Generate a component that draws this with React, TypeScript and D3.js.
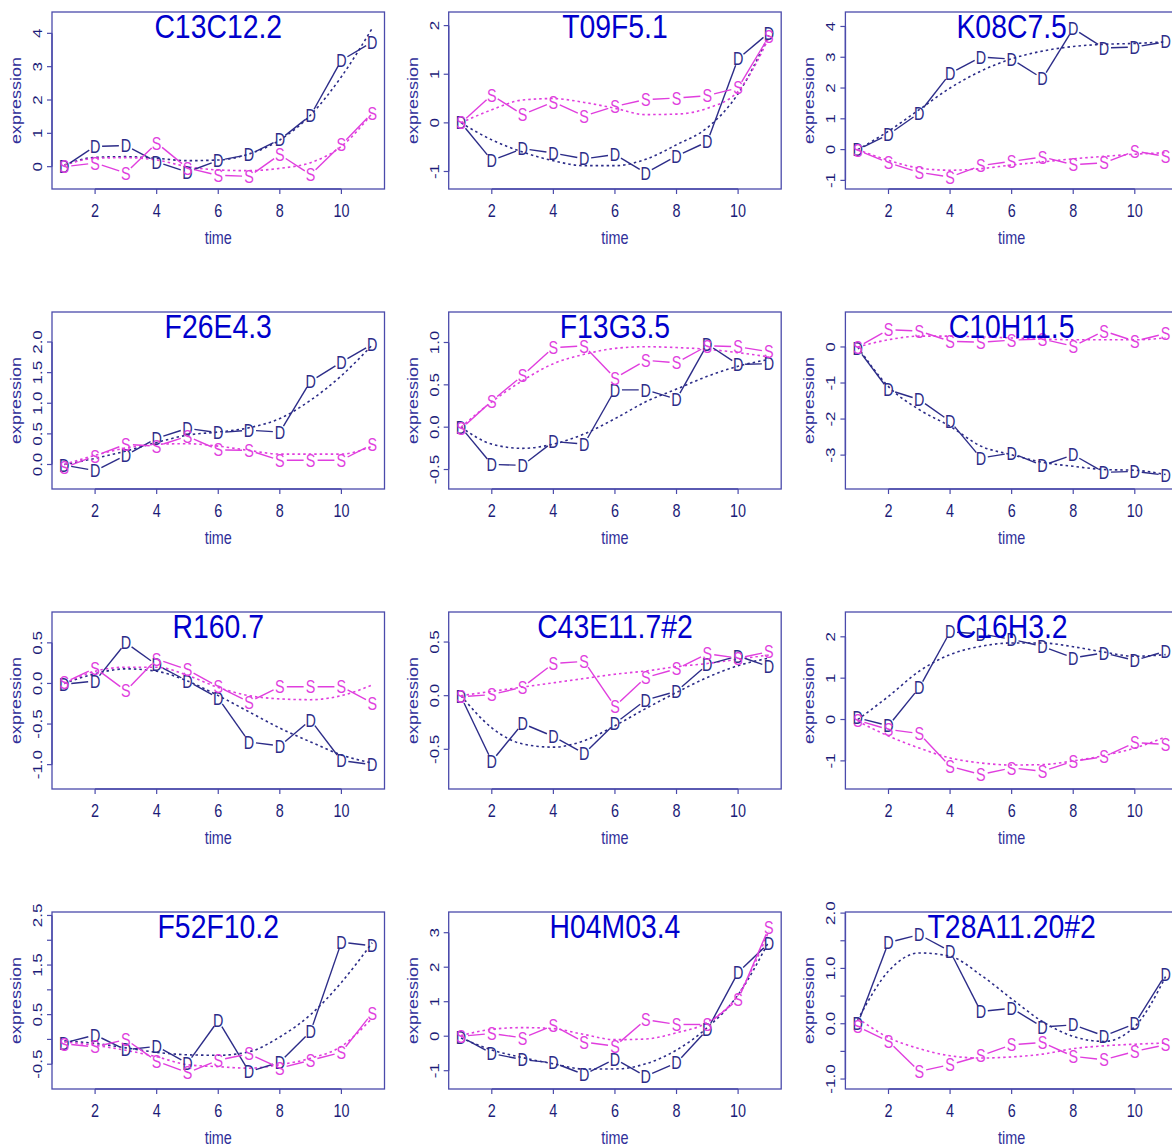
import React from "react";
import * as d3 from "d3";

// gene names, one panel each (4 rows x 3 cols)
const genes = [
  "C13C12.2", "T09F5.1", "K08C7.5",
  "F26E4.3", "F13G3.5", "C10H11.5",
  "R160.7", "C43E11.7#2", "C16H3.2",
  "F52F10.2", "H04M03.4", "T28A11.20#2",
];

const times = [1, 2, 3, 4, 5, 6, 7, 8, 9, 10, 11];
const xTicks = [2, 4, 6, 8, 10];

// observed series "D"
const dValues = [
  [0.0, 0.61, 0.63, 0.14, -0.16, 0.19, 0.36, 0.81, 1.54, 3.19, 3.74],
  [0, -0.77, -0.53, -0.62, -0.74, -0.65, -1.03, -0.68, -0.39, 1.32, 1.85],
  [0, 0.49, 1.19, 2.47, 3.01, 2.94, 2.31, 3.93, 3.3, 3.33, 3.5],
  [-0.01, -0.1, 0.15, 0.43, 0.59, 0.52, 0.56, 0.53, 1.36, 1.67, 1.96],
  [0, -0.44, -0.45, -0.17, -0.2, 0.44, 0.44, 0.33, 0.98, 0.74, 0.75],
  [-0.05, -1.19, -1.46, -2.06, -3.08, -2.94, -3.29, -2.99, -3.48, -3.45, -3.56],
  [-0.01, 0.03, 0.5, 0.23, 0.03, -0.18, -0.72, -0.77, -0.45, -0.95, -1.0],
  [-0.01, -0.61, -0.26, -0.38, -0.54, -0.26, -0.04, 0.04, 0.29, 0.37, 0.27],
  [0.04, -0.15, 0.77, 2.12, 2.07, 1.94, 1.77, 1.49, 1.61, 1.43, 1.65],
  [-0.07, 0.09, -0.21, -0.14, -0.48, 0.38, -0.65, -0.46, 0.16, 1.96, 1.89],
  [-0.02, -0.5, -0.68, -0.77, -1.11, -0.66, -1.16, -0.77, 0.19, 1.85, 2.7],
  [0, 1.47, 1.61, 1.31, 0.22, 0.28, -0.06, -0.02, -0.22, 0, 0.89],
];

// observed series "S"
const sValues = [
  [0.0, 0.11, -0.19, 0.71, -0.04, -0.26, -0.29, 0.36, -0.24, 0.66, 1.61],
  [0, 0.57, 0.17, 0.43, 0.14, 0.34, 0.48, 0.51, 0.56, 0.72, 1.78],
  [-0.02, -0.43, -0.74, -0.89, -0.52, -0.38, -0.24, -0.49, -0.43, -0.05, -0.22],
  [-0.05, 0.14, 0.33, 0.3, 0.46, 0.24, 0.23, 0.07, 0.07, 0.07, 0.33],
  [-0.02, 0.31, 0.61, 0.94, 0.96, 0.58, 0.79, 0.76, 0.96, 0.95, 0.89],
  [0, 0.48, 0.44, 0.16, 0.13, 0.19, 0.22, 0.02, 0.44, 0.16, 0.37],
  [0.01, 0.19, -0.09, 0.3, 0.17, -0.04, -0.23, -0.04, -0.04, -0.04, -0.24],
  [-0.01, 0.01, 0.08, 0.3, 0.32, -0.1, 0.17, 0.25, 0.39, 0.35, 0.41],
  [-0.02, -0.24, -0.34, -1.13, -1.33, -1.17, -1.25, -1.01, -0.9, -0.56, -0.6],
  [-0.09, -0.15, 0, -0.44, -0.67, -0.42, -0.29, -0.58, -0.42, -0.26, 0.53],
  [0, 0.08, -0.05, 0.31, -0.17, -0.29, 0.48, 0.34, 0.34, 1.06, 3.14],
  [-0.05, -0.32, -0.86, -0.74, -0.58, -0.38, -0.34, -0.59, -0.65, -0.5, -0.38],
];

// fitted (dotted) curves read at each time point
const dFit = [
  [0.05, 0.28, 0.3, 0.25, 0.18, 0.2, 0.38, 0.8, 1.55, 2.7, 4.15],
  [0, -0.35, -0.6, -0.78, -0.88, -0.88, -0.75, -0.45, -0.1, 0.6, 1.8],
  [0, 0.6, 1.3, 2.0, 2.55, 2.95, 3.2, 3.35, 3.42, 3.45, 3.5],
  [0, 0.1, 0.22, 0.36, 0.48, 0.53, 0.6, 0.75, 1.05, 1.45, 1.95],
  [0, -0.2, -0.25, -0.2, -0.08, 0.1, 0.3, 0.45, 0.6, 0.72, 0.8],
  [0, -1.1, -1.74, -2.2, -2.75, -2.99, -3.2, -3.31, -3.4, -3.42, -3.54],
  [0, 0.12, 0.18, 0.15, 0.03, -0.15, -0.35, -0.55, -0.72, -0.88, -0.98],
  [0, -0.3, -0.45, -0.48, -0.42, -0.28, -0.12, 0.03, 0.17, 0.28, 0.35],
  [0, 0.56, 1.17, 1.57, 1.77, 1.85, 1.85, 1.76, 1.63, 1.53, 1.57],
  [-0.03, -0.08, -0.17, -0.26, -0.31, -0.32, -0.25, 0.05, 0.5, 1.15, 1.95],
  [-0.05, -0.4, -0.62, -0.8, -0.95, -0.95, -0.8, -0.4, 0.25, 1.2, 2.75],
  [0.07, 0.95, 1.28, 1.22, 0.88, 0.45, 0.04, -0.23, -0.32, -0.05, 0.85],
];

const sFit = [
  [0.05, 0.25, 0.27, 0.2, 0.0, -0.1, -0.12, -0.05, 0.12, 0.61, 1.6],
  [0, 0.27, 0.47, 0.5, 0.42, 0.3, 0.17, 0.18, 0.3, 0.65, 1.75],
  [0, -0.35, -0.6, -0.67, -0.62, -0.5, -0.4, -0.3, -0.22, -0.15, -0.1],
  [0, 0.15, 0.27, 0.33, 0.34, 0.3, 0.23, 0.17, 0.17, 0.17, 0.3],
  [0, 0.3, 0.55, 0.75, 0.86, 0.93, 0.95, 0.94, 0.92, 0.88, 0.83],
  [0, 0.2, 0.3, 0.3, 0.28, 0.25, 0.22, 0.2, 0.2, 0.2, 0.25],
  [0, 0.15, 0.2, 0.2, 0.1, -0.05, -0.15, -0.19, -0.2, -0.15, -0.02],
  [0, 0.04, 0.08, 0.12, 0.16, 0.2, 0.23, 0.27, 0.3, 0.34, 0.38],
  [-0.04, -0.4, -0.69, -0.93, -1.05, -1.1, -1.09, -1.0, -0.87, -0.69, -0.42],
  [-0.05, -0.12, -0.22, -0.35, -0.51, -0.55, -0.58, -0.51, -0.38, -0.14, 0.43],
  [0.02, 0.2, 0.25, 0.22, 0.05, -0.1, -0.08, 0.1, 0.4, 1.2, 3.05],
  [0.1, -0.25, -0.45, -0.58, -0.62, -0.6, -0.55, -0.45, -0.4, -0.37, -0.35],
];

// y axis range of each panel (bottom, top)
const yLimits = [
  [-0.67, 4.64], [-1.36, 2.28], [-1.28, 4.47],
  [-0.4, 2.49], [-0.73, 1.36], [-3.94, 0.97],
  [-1.3, 0.88], [-0.87, 0.78], [-1.68, 2.6],
  [-1.0, 2.57], [-1.53, 3.6], [-1.18, 2.02],
];

const yTicks = [
  [0, 1, 2, 3, 4], [-1, 0, 1, 2], [-1, 0, 1, 2, 3, 4],
  [0, 0.5, 1, 1.5, 2], [-0.5, 0, 0.5, 1], [-3, -2, -1, 0],
  [-1, -0.5, 0, 0.5], [-0.5, 0, 0.5], [-1, 0, 1, 2],
  [-0.5, 0, 0.5, 1, 1.5, 2, 2.5], [-1, 0, 1, 2, 3], [-1, -0.5, 0, 0.5, 1, 1.5, 2],
];

const yTickLabels = [
  ["0", "1", "2", "3", "4"], ["-1", "0", "1", "2"], ["-1", "0", "1", "2", "3", "4"],
  ["0.0", "0.5", "1.0", "1.5", "2.0"], ["-0.5", "0.0", "0.5", "1.0"], ["-3", "-2", "-1", "0"],
  ["-1.0", "-0.5", "0.0", "0.5"], ["-0.5", "0.0", "0.5"], ["-1", "0", "1", "2"],
  ["-0.5", "", "0.5", "", "1.5", "", "2.5"], ["-1", "0", "1", "2", "3"], ["-1.0", "", "0.0", "", "1.0", "", "2.0"],
];

const W = 1172;
const H = 1146;
const colStep = 396.7;
const rowStep = 300;
const boxW = 332.5;
const boxH = 177;

const font = "'Liberation Sans', Arial, Helvetica, sans-serif";
const axisCol = "#4b4bab";
const tickTextCol = "#1c1c78";
const labelCol = "#30309a";
const titleCol = "#0000cc";
const dCol = "#2c2c88";
const sCol = "#e03ede";

const GAP = 7;

// type="b" style: segments stop short of the letters
const gappedSegments = (pts) => {
  const segs = [];
  for (let i = 0; i < pts.length - 1; i++) {
    const [x0, y0] = pts[i];
    const [x1, y1] = pts[i + 1];
    const len = Math.hypot(x1 - x0, y1 - y0);
    if (len <= GAP * 2) continue;
    const ux = (x1 - x0) / len;
    const uy = (y1 - y0) / len;
    segs.push([x0 + ux * GAP, y0 + uy * GAP, x1 - ux * GAP, y1 - uy * GAP]);
  }
  return segs;
};

const Panel = ({ i }) => {
  const col = i % 3;
  const row = Math.floor(i / 3);
  const left = 52 + col * colStep;
  const top = 12 + row * rowStep;
  const bottom = top + boxH;

  const x = d3.scaleLinear().domain([0.6, 11.4]).range([left, left + boxW]);
  const y = d3.scaleLinear().domain(yLimits[i]).range([bottom, top]);

  const fitLine = d3
    .line()
    .x((d, k) => x(times[k]))
    .y((d) => y(d))
    .curve(d3.curveMonotoneX);

  const series = [
    { vals: dValues[i], fit: dFit[i], color: dCol, ch: "D" },
    { vals: sValues[i], fit: sFit[i], color: sCol, ch: "S" },
  ];

  const ticksY = yTicks[i];
  const clipId = "clip" + i;

  return (
    <g>
      <clipPath id={clipId}>
        <rect x={left} y={top} width={boxW} height={boxH} />
      </clipPath>

      {/* x axis */}
      <line x1={x(2)} x2={x(10)} y1={bottom} y2={bottom} stroke={axisCol} strokeWidth={1.4} />
      {xTicks.map((t) => (
        <g key={"xt" + t}>
          <line x1={x(t)} x2={x(t)} y1={bottom} y2={bottom + 5} stroke={axisCol} strokeWidth={1.2} />
          <text
            transform={`translate(${x(t)},${bottom + 28}) scale(0.8,1)`}
            textAnchor="middle"
            fontSize={18}
            fontFamily={font}
            fill={tickTextCol}
          >
            {t}
          </text>
        </g>
      ))}
      <text
        transform={`translate(${left + boxW / 2},${bottom + 55}) scale(0.8,1)`}
        textAnchor="middle"
        fontSize={18}
        fontFamily={font}
        fill={labelCol}
      >
        time
      </text>

      {/* y axis */}
      <line
        x1={left}
        x2={left}
        y1={y(ticksY[0])}
        y2={y(ticksY[ticksY.length - 1])}
        stroke={axisCol}
        strokeWidth={1.4}
      />
      {ticksY.map((t, k) => (
        <g key={"yt" + k}>
          <line x1={left - 5} x2={left} y1={y(t)} y2={y(t)} stroke={axisCol} strokeWidth={1.2} />
          {yTickLabels[i][k] !== "" && (
            <text
              transform={`translate(${left - 10},${y(t)}) scale(0.8,1) rotate(-90)`}
              textAnchor="middle"
              fontSize={17}
              fontFamily={font}
              fill={tickTextCol}
            >
              {yTickLabels[i][k]}
            </text>
          )}
        </g>
      ))}
      <text
        transform={`translate(${left - 31},${top + boxH / 2}) scale(0.8,1) rotate(-90)`}
        textAnchor="middle"
        fontSize={18}
        fontFamily={font}
        fill={labelCol}
      >
        expression
      </text>

      {/* box */}
      <rect x={left} y={top} width={boxW} height={boxH} fill="none" stroke={axisCol} strokeWidth={1.3} />

      <g clipPath={`url(#${clipId})`}>
        {series.map((s) => (
          <path
            key={"fit" + s.ch}
            d={fitLine(s.fit)}
            fill="none"
            stroke={s.color}
            strokeWidth={1.6}
            strokeDasharray="2.5 3"
          />
        ))}
        {series.map((s) => {
          const pts = s.vals.map((v, k) => [x(times[k]), y(v)]);
          return (
            <g key={"ser" + s.ch}>
              {gappedSegments(pts).map((g, k) => (
                <line
                  key={k}
                  x1={g[0]}
                  y1={g[1]}
                  x2={g[2]}
                  y2={g[3]}
                  stroke={s.color}
                  strokeWidth={1.4}
                />
              ))}
              {pts.map((p, k) => (
                <text
                  key={"pt" + k}
                  transform={`translate(${p[0]},${p[1]}) scale(0.8,1)`}
                  textAnchor="middle"
                  dominantBaseline="central"
                  fontSize={18}
                  fontFamily={font}
                  fill={s.color}
                >
                  {s.ch}
                </text>
              ))}
            </g>
          );
        })}
      </g>

      <text
        transform={`translate(${left + boxW / 2},${top + 26}) scale(0.86,1)`}
        textAnchor="middle"
        fontSize={33}
        fontFamily={font}
        fill={titleCol}
      >
        {genes[i]}
      </text>
    </g>
  );
};

const App = () => {
  return (
    <svg
      width={W}
      height={H}
      style={{ position: "absolute", left: 0, top: 0, background: "#ffffff" }}
    >
      {genes.map((g, i) => (
        <Panel key={g} i={i} />
      ))}
    </svg>
  );
};

export default App;
